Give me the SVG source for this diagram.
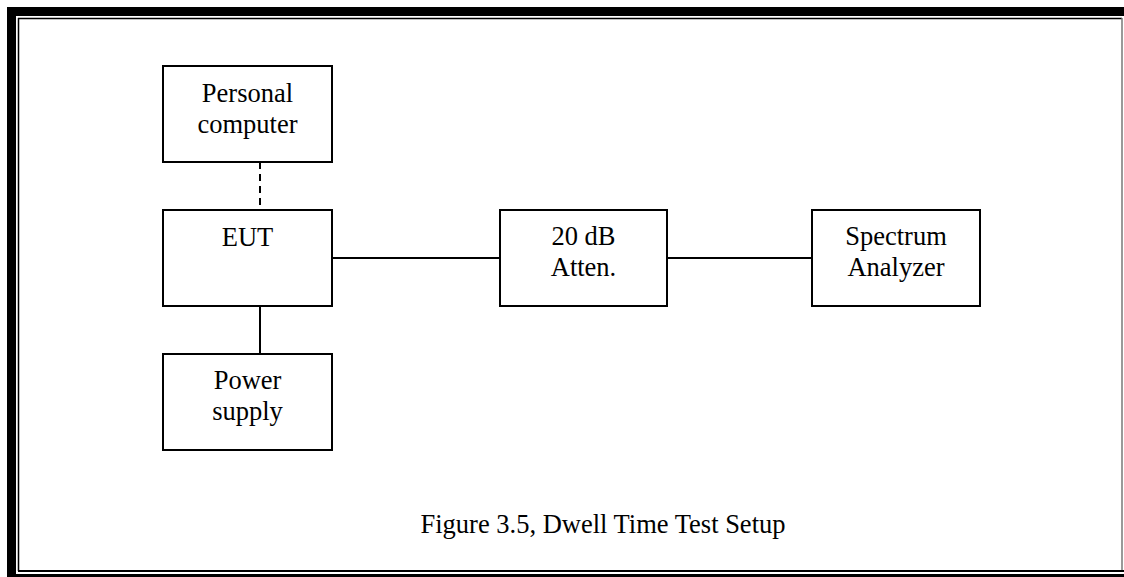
<svg xmlns="http://www.w3.org/2000/svg" width="1124" height="577" viewBox="0 0 1124 577">
<style>
.box{fill:#fff;stroke:#000;stroke-width:2}
.lbl{font-family:"Liberation Serif","Times New Roman",serif;font-size:26.5px;fill:#000;text-anchor:middle}
.conn{stroke:#000;stroke-width:2;fill:none}
</style>
<rect width="1124" height="577" fill="#fff"/>
<g id="frame">
<path d="M7,577 V7 H1124 V16 H16 V574 H1124 V577 Z" fill="#000"/>
<line x1="18.5" y1="18" x2="18.5" y2="571" stroke="#000" stroke-width="1.5"/>
<line x1="18" y1="18.5" x2="1122" y2="18.5" stroke="#000" stroke-width="1.5"/>
<line x1="1122" y1="18" x2="1122" y2="571" stroke="#777" stroke-width="1.5"/>
<line x1="18" y1="571" x2="1124" y2="571" stroke="#000" stroke-width="2.2"/>
</g>
<g id="connectors">
<line class="conn" x1="260" y1="162" x2="260" y2="210" stroke-dasharray="7,5"/>
<line class="conn" x1="260" y1="306" x2="260" y2="354"/>
<line class="conn" x1="332" y1="258" x2="500" y2="258"/>
<line class="conn" x1="667" y1="258" x2="812" y2="258"/>
</g>
<g id="pc">
<rect class="box" x="163" y="66" width="169" height="96"/>
<text class="lbl" x="247.5" y="102">Personal</text>
<text class="lbl" x="247.5" y="133">computer</text>
</g>
<g id="eut">
<rect class="box" x="163" y="210" width="169" height="96"/>
<text class="lbl" x="247.5" y="246">EUT</text>
</g>
<g id="power">
<rect class="box" x="163" y="354" width="169" height="96"/>
<text class="lbl" x="247.5" y="389">Power</text>
<text class="lbl" x="247.5" y="420">supply</text>
</g>
<g id="atten">
<rect class="box" x="500" y="210" width="167" height="96"/>
<text class="lbl" x="583.5" y="245">20 dB</text>
<text class="lbl" x="583.5" y="276">Atten.</text>
</g>
<g id="spectrum">
<rect class="box" x="812" y="210" width="168" height="96"/>
<text class="lbl" x="896" y="245">Spectrum</text>
<text class="lbl" x="896" y="276">Analyzer</text>
</g>
<g id="caption">
<text class="lbl" x="603" y="533">Figure 3.5, Dwell Time Test Setup</text>
</g>
</svg>
